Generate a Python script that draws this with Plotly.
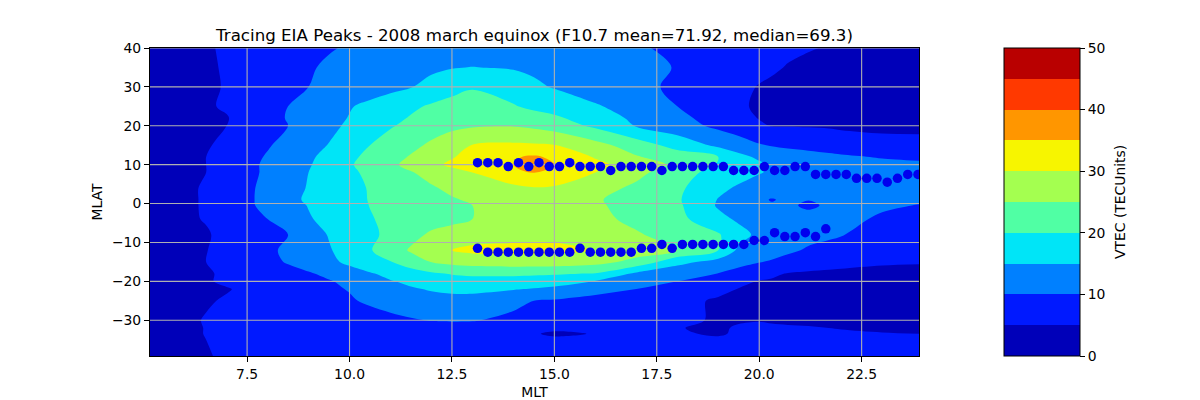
import plotly.graph_objects as go

TITLE = "Tracing EIA Peaks - 2008 march equinox (F10.7 mean=71.92, median=69.3)"
mlt = [5.13,6,6.5,7,7.5,8,8.5,9,9.5,10,10.5,11,11.5,12,12.5,13,14,14.5,15,16,17,18,19,19.5,20,20.3,20.7,21.2,21.7,22,23,23.9]
mlat = [-39.2,-35,-33.5,-32,-30,-25,-22,-20,-18,-15,-12,-8,-4,-0.5,1,4,8,10,12,15,20,22,25,30,35,40]

r_m39 = [3.5,4.2,4.8,5.4,5.7,5.9,6,6.1,6.2,6.3,6.4,6.4,6.5,6.5,6.5,6.5,6.2,6.1,6,6,5.9,5.9,5.9,5.9,5.9,5.9,5.9,5.9,5.8,5.8,5.8,5.8]
r_m35 = [3.7,4.3,5,5.2,5.5,5.6,5.7,5.9,6.1,6.3,6.5,6.6,6.8,6.8,6.8,6.7,6,5.7,5.5,5.6,5.6,5.6,5.6,5.7,5.8,5.8,5.8,5.7,5.7,5.6,5.6,5.5]
r_m33 = [3.7,4.4,5.1,5.4,5.6,5.8,5.9,6.1,6.3,6.6,6.9,7.1,7.3,7.4,7.4,7.2,6.2,5.2,4.6,5.1,5.3,5.4,4.6,5.5,5.6,5.6,5.5,5.4,5.4,5.3,5.1,5]
r_m32 = [3.7,4.4,5.1,5.5,5.7,5.9,6.1,6.3,6.5,6.9,7.3,7.6,8,8.2,8.2,8.1,7,6.3,5.5,5.5,5.4,5.1,4.6,5.3,5.4,5.4,5.2,5.1,5,4.9,4.7,4.6]
r_m30 = [3.5,4.4,5.2,5.5,5.9,6.2,6.5,6.8,7.2,7.7,8.4,9,9.6,10.2,10.4,10.3,8.8,8.1,7.5,6.6,6,5.4,4.8,4.7,4.9,4.7,4.7,4.7,4.7,4.6,4.3,4.2]
r_m25 = [3.3,4.1,4.7,5.3,6,6.8,7.5,8.1,8.9,9.6,10.6,11.6,12.7,13.3,13.6,13.6,11.3,10,9.5,8,7,5.7,4.7,4.4,4.1,4,3.9,3.8,3.7,3.7,3.5,3.5]
r_m22 = [3.2,3.9,4.3,4.8,5.6,7,8,8.8,9.4,10.2,11.6,13.2,14.5,15.4,15.9,15.9,15.3,14.7,14,12,10,7.9,5.6,4.9,4.3,4.2,4.1,4,3.8,3.7,3.5,3.4]
r_m20 = [3.3,4.1,4.7,5.5,6.5,7.5,8.5,9.2,9.7,11,12.8,14.7,16,17,17.7,18.2,18,17.5,17,14.8,12.2,10,7.2,6,4.8,4.6,4.3,4.1,3.9,3.8,3.6,3.5]
r_m18 = [3.4,4.2,4.8,5.3,6.9,8,8.8,9.6,11,12.9,14.6,16.3,17.8,19.3,20.4,20.9,21,20.9,20.6,19.8,14.2,11.8,9.9,8.3,6.6,5.7,4.8,4.4,4.2,4.1,3.9,3.8]
r_m15 = [3.5,4.3,5,6,7.6,9,10.3,12,13.9,16,17.9,19.8,22.6,25.2,26.5,27.3,27.8,27.8,27.6,26.6,23.6,16.5,13.2,11.6,10.2,9.5,8.5,7.4,6.7,6.3,5.5,5.3]
r_m12 = [3.4,4.1,4.9,6.1,7.6,9,11,12.7,14.6,17.1,19.7,22.3,25.6,28.1,30.3,31,31.2,31.2,31,29.9,27.3,25,20,14,12.9,12.2,10.8,9.5,8.7,8.2,6.6,5.9]
r_m08 = [3.4,4.2,4.7,5.9,7.2,8.6,10,12.6,15.3,17.1,19,21.2,23.5,25.8,26.6,28,28.6,29,29,27.8,25.5,23,20.5,16.5,14,13.2,12.3,11.3,10.7,10.2,8.5,7.6]
r_m04 = [3.8,4.5,5.2,6.8,8.4,10,12.3,14.6,16.3,18,19.7,21,22,23,24,25,27,27.8,28,26.3,23.8,21.5,16.3,14.3,13,12.4,11.9,11.3,11,10.8,9.6,9]
r_m00 = [3.8,4.5,5.3,7.2,9.2,11.2,13.2,15.2,16.9,18.4,20.1,21,22,23,24,25,27,27.5,27.5,25.7,23.2,20.9,14.5,12.4,11,10.5,10.6,9.4,10.5,10.6,10.4,9.9]
r_p01 = [3.8,4.5,5.3,7.2,9.2,11.4,13.7,15.7,17.2,18.7,20.2,21.3,22.3,23.4,24.6,25.6,27.5,28,28,25.5,23,20.6,14.8,12.6,11,9.7,10.8,10.1,10.7,11,11,10.4]
r_p04 = [3.8,4.5,5.3,7.3,9.2,11.2,13.3,15.3,17,18.7,20.3,21.8,23,24.5,26,27,29,29.7,29.5,27,24,21,16.1,14.4,13.4,13,12.6,12.2,12,11.9,11.5,11]
r_p08 = [3.7,4.3,5,6.9,8.8,10.8,13,15,17,19.1,21,23,24.7,26.6,28.3,30,33.5,35.2,33.5,30,26.4,22,18.3,16.8,15.2,14.6,13.9,13.1,12.7,12.4,11.6,11.2]
r_p10 = [3.7,4.3,5,6.9,8.8,10.8,12.7,14.6,17,19.5,21.8,24,26.4,28.6,31,33,35,36.5,35,31.2,27.7,24,19.7,17.7,15.8,14.6,13.8,13,12.5,12.2,11.2,10.7]
r_p12 = [3.6,4.2,5,6.8,8.6,10.4,12.3,14.2,16.5,19,21.2,23.3,25.4,27.5,29.6,32,34.6,35.6,34.2,29.6,25.4,22.5,20,16.4,14.2,13.3,12.5,11.8,11,10.7,9.7,9.3]
r_p15 = [3.4,4,4.6,6,7.8,9.6,11.5,13.3,15.2,17.6,20,22,23.8,25.8,28,30.2,30.8,30.6,30.2,26.7,22.5,18.2,14,12.3,10.4,9.7,9,8.4,8,7.4,6.8,6.7]
r_p20 = [3,3.8,4.4,5,6.7,8.3,10,11.9,13.8,15.8,17.7,19.6,21.2,22.8,23.8,24.5,24.8,24,22.8,19,14.7,12,9,7.5,5.7,4.8,4.8,4.7,4.5,4.3,3.8,3.7]
r_p22 = [3,3.8,4.3,4.8,6.5,8.4,10.3,12,13.6,15.2,16.9,18.6,20.4,22,23.2,24,22.8,21.8,20.8,17.5,14,11.2,8.1,6.6,4.8,4.4,4.3,4.1,3.9,3.8,3.5,3.4]
r_p25 = [3,3.9,4.6,5.4,6.9,8.5,10,11.5,13,14.7,16,17.5,19.1,20.6,22,23,20.3,19,18,15.5,12.8,10,7,5.6,4.4,4,3.8,3.6,3.4,3.3,3.2,3.1]
r_p30 = [3,3.8,4.5,5.2,6.5,7.6,8.8,10,11,12,12.9,13.8,14.8,16.3,18,19.5,18,15.8,14.7,12.5,11,9.3,7,5.9,4.8,4.4,4,3.7,3.5,3.4,3.3,3.2]
r_p35 = [3,3.8,4.4,5.4,6.5,7.5,8.5,9.6,10.6,11.5,12.3,13,13.6,14.2,14.8,15.1,14.6,14.2,13.8,12.5,11.2,9.8,7.9,7,6,5.5,4.8,4.3,4,3.9,3.6,3.5]
r_p40 = [3,3.8,4.6,5.5,6.4,7.2,8,8.9,9.7,10.4,10.9,11.3,11.6,11.9,12.1,12.2,12.2,12.1,12,11.4,10.5,9.1,7.5,6.8,6.4,6.1,5.7,5.2,4.8,4.5,4.2,4]

vtec = [r_m39,r_m35,r_m33,r_m32,r_m30,r_m25,r_m22,r_m20,r_m18,r_m15,r_m12,r_m08,r_m04,r_m00,r_p01,r_p04,r_p08,r_p10,r_p12,r_p15,r_p20,r_p22,r_p25,r_p30,r_p35,r_p40]

north_mlt = [13.125,13.375,13.625,13.875,14.125,14.375,14.625,14.875,15.125,15.375,15.625,15.875,16.125,16.375,16.625,16.875,17.125,17.375,17.625,17.875,18.125,18.375,18.625,18.875,19.125,19.375,19.625,19.875,20.125,20.375,20.625,20.875,21.125,21.375,21.625,21.875,22.125,22.375,22.625,22.875,23.125,23.375,23.625,23.875]
north_lat = [10.5,10.5,10.5,9.5,10.5,9.5,10.5,9.5,9.5,10.5,9.5,9.5,9.5,8.5,9.5,9.5,9.5,9.5,8.5,9.5,9.5,9.5,9.5,9.5,9.5,8.5,8.5,8.5,9.5,8.5,8.5,9.5,9.5,7.5,7.5,7.5,7.5,6.5,6.5,6.5,5.5,6.5,7.5,7.5]
south_mlt = [13.125,13.375,13.625,13.875,14.125,14.375,14.625,14.875,15.125,15.375,15.625,15.875,16.125,16.375,16.625,16.875,17.125,17.375,17.625,17.875,18.125,18.375,18.625,18.875,19.125,19.375,19.625,19.875,20.125,20.375,20.625,20.875,21.125,21.375,21.625]
south_lat = [-11.5,-12.5,-12.5,-12.5,-12.5,-12.5,-12.5,-12.5,-12.5,-12.5,-11.5,-12.5,-12.5,-12.5,-12.5,-12.5,-11.5,-11.5,-10.5,-11.5,-10.5,-10.5,-10.5,-10.5,-10.5,-10.5,-10.5,-9.5,-9.5,-7.5,-8.5,-8.5,-7.5,-8.5,-6.5]

x_ticks = [7.5,10,12.5,15,17.5,20,22.5]
x_tick_text = ["7.5","10.0","12.5","15.0","17.5","20.0","22.5"]
y_ticks = [-30,-20,-10,0,10,20,30,40]
cbar_ticks = [0,10,20,30,40,50]
band_colors = ["#0000B9","#0019FF","#0080FF","#00E5F7","#50FFA4","#A4FF50","#F7F500","#FF9600","#FF3900","#B90000"]
x_range = [5.13,23.9]
y_range = [-39.2,40]

scale = []
for i, c in enumerate(band_colors):
    scale.append([i/len(band_colors), c])
    scale.append([(i+1)/len(band_colors), c])

font = "DejaVu Sans"
fig = go.Figure()
fig.add_trace(go.Contour(
    x=mlt, y=mlat, z=vtec, zmin=0, zmax=50, autocontour=False,
    colorscale=scale, line=dict(width=0), hoverinfo="skip",
    contours=dict(start=0, end=50, size=5, coloring="fill", showlines=False),
    colorbar=dict(
        x=(1004-150)/769, xanchor="left", xpad=0, y=0.5, yanchor="middle", ypad=0,
        thickness=76, thicknessmode="pixels", len=1, lenmode="fraction",
        outlinecolor="black", outlinewidth=1,
        tickmode="array", tickvals=cbar_ticks, ticks="outside", ticklen=5, tickwidth=1, tickcolor="black",
        tickfont=dict(family=font, size=13.9, color="black"),
    ),
))

grid_x, grid_y = [], []
for t in x_ticks:
    grid_x += [t, t, None]
    grid_y += [y_range[0], y_range[1], None]
for t in y_ticks:
    grid_x += [x_range[0], x_range[1], None]
    grid_y += [t, t, None]
fig.add_trace(go.Scatter(x=grid_x, y=grid_y, mode="lines", line=dict(color="#b0b0b0", width=1.1),
                         hoverinfo="skip", showlegend=False))
for xs, ys in ((north_mlt, north_lat), (south_mlt, south_lat)):
    fig.add_trace(go.Scatter(x=xs, y=ys, mode="markers", showlegend=False,
                             marker=dict(color="#0000ee", size=9.5, line=dict(width=0))))

axis_common = dict(showline=True, linecolor="black", linewidth=1, mirror=True, showgrid=False, zeroline=False,
                   ticks="outside", ticklen=5, tickwidth=1, tickcolor="black", automargin=False,
                   tickfont=dict(family=font, size=13.9, color="black"))
fig.update_layout(
    width=1200, height=400, autosize=False, plot_bgcolor="white", paper_bgcolor="white",
    margin=dict(l=150, r=281, t=48, b=44, pad=0), showlegend=False,
    title=dict(text=TITLE, x=(534.5)/1200, xanchor="center", y=1-35/400, yanchor="middle",
               font=dict(family=font, size=16.67, color="black")),
    xaxis=dict(range=x_range, tickmode="array", tickvals=x_ticks, ticktext=x_tick_text,
               title=dict(text="MLT", font=dict(family=font, size=13.9, color="black"), standoff=6), **axis_common),
    yaxis=dict(range=y_range, tickmode="array", tickvals=y_ticks,
               title=dict(text="MLAT", font=dict(family=font, size=13.9, color="black"), standoff=6), **axis_common),
    annotations=[dict(text="VTEC (TECUnits)", textangle=-90, xref="paper", yref="paper", x=(1120-150)/769, y=0.5,
                      xanchor="center", yanchor="middle", showarrow=False,
                      font=dict(family=font, size=13.9, color="black"))],
)
fig.write_html("out.html", config=dict(displayModeBar=False),
               post_script="document.body.style.margin='0';")
